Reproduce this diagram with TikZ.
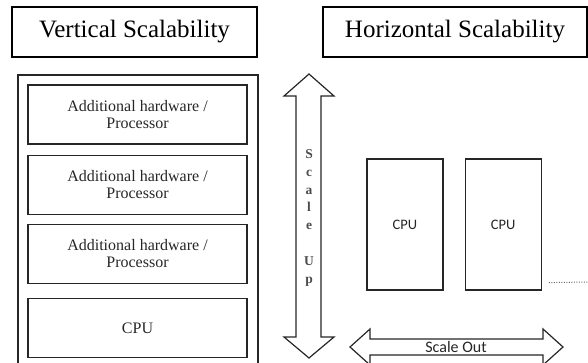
\documentclass[tikz,border=0pt]{standalone}
\usepackage{fontspec}
\setmainfont{Liberation Serif}
\newfontfamily\calibri{Carlito}
\usepackage{tikz}
\usetikzlibrary{shapes,arrows}
\usetikzlibrary{positioning}
\tikzstyle{title} = [rectangle, draw, line width=1.8pt,
    font=\fontsize{25}{28}\selectfont, minimum height=50pt]
\tikzstyle{block} = [rectangle, draw=black!85, line width=1.2pt, text=black!85,
    align=center, font=\fontsize{16}{17}\selectfont,
    minimum width=219pt, minimum height=59pt]
\tikzstyle{cpu} = [rectangle, draw=black!85, line width=1.2pt, text=black!85,
    font=\calibri\fontsize{14.5}{17}\selectfont,
    minimum width=76pt, minimum height=131pt]
\tikzstyle{bigarrow} = [draw=black!85, line width=1.2pt, fill=white]
\tikzstyle{dots} = [draw=black!60, line width=1pt, dash pattern=on 1pt off 1.5pt]

\begin{document}
\begin{tikzpicture}[x=1pt, y=-1pt]
  \useasboundingbox (0,0) rectangle (588,362);
  \clip (0,0) rectangle (588,362);

  % Place nodes
  \node [title, minimum width=245pt] (vtitle) at (134.5,32) {Vertical Scalability};
  \node [title, minimum width=264pt] (htitle) at (455,32) {Horizontal Scalability};

  % the rack, open at the bottom
  \draw [black!85, line width=1.2pt] (18,372) -- (18,75) -- (258,75) -- (258,372);

  \node [block] (hw1) at (137.5,114.5) {Additional hardware /\\Processor};
  \node [block, below=10pt of hw1] (hw2) {Additional hardware /\\Processor};
  \node [block, below=9pt of hw2] (hw3) {Additional hardware /\\Processor};
  \node [block, below=14pt of hw3] (cpu) {CPU};

  \node [cpu] (cpuA) at (405,224.5) {CPU};
  \node [cpu, right=21pt of cpuA] (cpuB) {CPU};
  \coordinate (more) at (588,282);

  % Draw arrows
  \draw [bigarrow] (309,74) -- (334,96) -- (321,96) -- (321,337) -- (334,337)
    -- (309,358) -- (284,337) -- (296,337) -- (296,96) -- (284,96) -- cycle;
  \node [align=center, inner sep=0pt, text=black!70,
    font=\bfseries\fontsize{13.5}{17.8}\selectfont] (up) at (309,217.7)
    {S\\c\\a\\l\\e\\\mbox{}\\U\\p};

  \draw [bigarrow] (350,347) -- (370,329) -- (370,339) -- (543,339) -- (543,329)
    -- (563,347) -- (543,365) -- (543,355) -- (370,355) -- (370,365) -- cycle;
  \node [font=\calibri\fontsize{16}{18}\selectfont, text=black!85] (out) at (456,347) {Scale Out};

  \path [dots] ([xshift=7pt, yshift=8pt]cpuB.south east) -- (more);
\end{tikzpicture}
\end{document}
